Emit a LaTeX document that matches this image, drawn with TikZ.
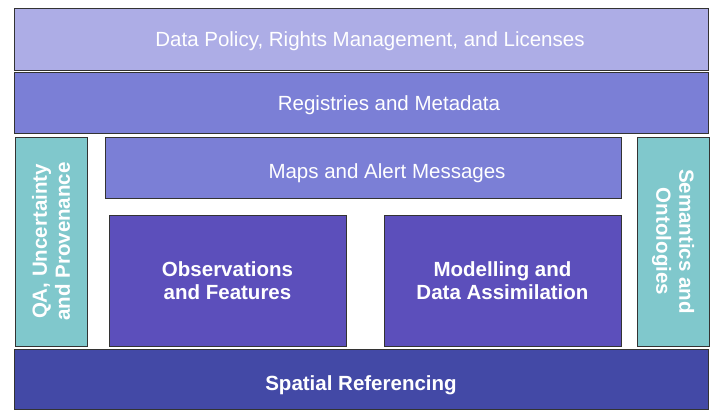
\documentclass[tikz,border=0pt]{standalone}
\usepackage{fontspec}
\setmainfont{Liberation Sans}
\definecolor{policyblue}{RGB}{173,173,230}
\definecolor{layerblue}{RGB}{123,127,214}
\definecolor{coreblue}{RGB}{92,79,187}
\definecolor{baseblue}{RGB}{67,73,166}
\definecolor{sidecyan}{RGB}{128,200,204}
\begin{document}
\begin{tikzpicture}[x=1pt,y=-1pt,layer/.style={shape=rectangle,draw=black!80,line width=0.9pt,text=white,font=\fontsize{20.5}{23}\selectfont,align=center,inner sep=0pt},oneline/.style={layer,text height=#1,text depth=0pt},strong/.style={layer,font=\fontsize{20.5}{23}\selectfont\bfseries},side/.style={strong,fill=sidecyan,minimum width=209,minimum height=72}]
\useasboundingbox (0,0) rectangle (712,411);
\node[oneline=15pt,fill=policyblue,minimum width=694,minimum height=62] (policy) at (361,39) {\hspace*{18pt}Data Policy, Rights Management, and Licenses};
\node[oneline=16pt,fill=layerblue,minimum width=694,minimum height=61] (registries) at (361,102.5) {\hspace*{56pt}Registries and Metadata};
\node[oneline=23pt,fill=layerblue,minimum width=516,minimum height=61] (maps) at (363,167.5) {\hspace*{48pt}Maps and Alert Messages};
\node[strong,fill=coreblue,minimum width=237,minimum height=131] (obs) at (227.5,280.5) {Observations\\and Features};
\node[strong,fill=coreblue,minimum width=237,minimum height=131] (model) at (502.5,280.5) {Modelling and\\Data Assimilation};
\node[side,rotate=90] (qa) at (51,241.5) {QA, Uncertainty\\and Provenance};
\node[side,rotate=-90] (sem) at (673,241.5) {Semantics and\\Ontologies};
\node[oneline=24pt,strong,text height=24pt,text depth=0pt,fill=baseblue,minimum width=694,minimum height=60] (spatial) at (361,379) {Spatial Referencing};
\end{tikzpicture}
\end{document}
